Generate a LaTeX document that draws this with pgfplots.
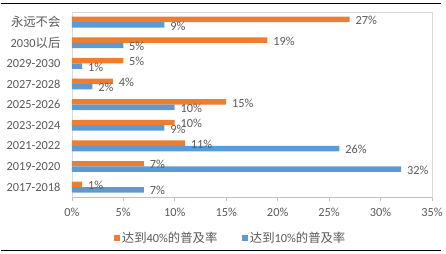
\documentclass[border=0pt]{standalone}
\usepackage{pgfplots}
\pgfplotsset{compat=1.18}
\usepackage{fontspec}
\setmainfont{Carlito}
\newfontfamily\cjk{Noto Sans CJK SC}
\definecolor{ora}{HTML}{ED7D31}
\definecolor{blu}{HTML}{5B9BD5}
\definecolor{txt}{HTML}{595959}
\definecolor{frm}{HTML}{D9D9D9}
\definecolor{axl}{HTML}{BFBFBF}
\pgfplotstableread{
y o b
0 1 7
1 7 32
2 11 26
3 10 9
4 15 10
5 4 2
6 5 1
7 19 5
8 27 9
}\data
\begin{document}
\begin{tikzpicture}[x=1pt,y=1pt]
\path (0,0) rectangle (446,257);
\draw[black,line width=1.5pt] (0,253.5) -- (446,253.5);
\draw[black,line width=1.5pt] (0,3.2) -- (446,3.2);
\begin{axis}[at={(72pt,57pt)}, anchor=south west, scale only axis,
  width=365pt, height=188pt,
  xbar, bar width=5.5pt,
  xmin=0, xmax=35, ymin=-0.5, ymax=8.5,
  xtick={0,5,...,35},
  xticklabel={\pgfmathprintnumber{\tick}\%},
  ytick={0,...,8},
  yticklabels={2017-2018,2019-2020,2021-2022,2023-2024,2025-2026,2027-2028,2029-2030,2030{\cjk 以后},{\cjk 永远不会}},
  /pgf/number format/assume math mode=true,
  ticklabel style={font=\fontsize{12.5}{14}\selectfont, text=txt},
  axis line style={frm},
  tick align=outside,
  xtick pos=bottom,
  x tick style={axl, line width=0.6pt},
  major tick length=4pt,
  y tick style={draw=none},
  xticklabel style={yshift=-3pt},
  yticklabel style={xshift=-4pt},
  nodes near coords={\pgfmathprintnumber{\pgfplotspointmeta}\%},
  nodes near coords style={font=\fontsize{12.5}{14}\selectfont, text=txt, anchor=west, xshift=2.5pt, yshift=-1pt},
  legend columns=2,
  legend style={at={(0.441,-0.218)}, anchor=center, draw=none, fill=none,
    font=\fontsize{12.5}{14}\selectfont, text=txt,
    /tikz/every even column/.append style={column sep=23pt}},
  legend image code/.code={\fill[#1] (0pt,-3pt) rectangle (6pt,3pt);},
]
\addplot[fill=ora, draw=none, bar shift=2.75pt] table[x=o, y=y] {\data};
\addlegendentry{{\cjk 达到}40\%{\cjk 的普及率}}
\addplot[fill=blu, draw=none, bar shift=-2.75pt] table[x=b, y=y] {\data};
\addlegendentry{{\cjk 达到}10\%{\cjk 的普及率}}
\draw[axl, line width=0.6pt] (axis cs:0,-0.5) -- (axis cs:35,-0.5);
\end{axis}
\end{tikzpicture}
\end{document}
